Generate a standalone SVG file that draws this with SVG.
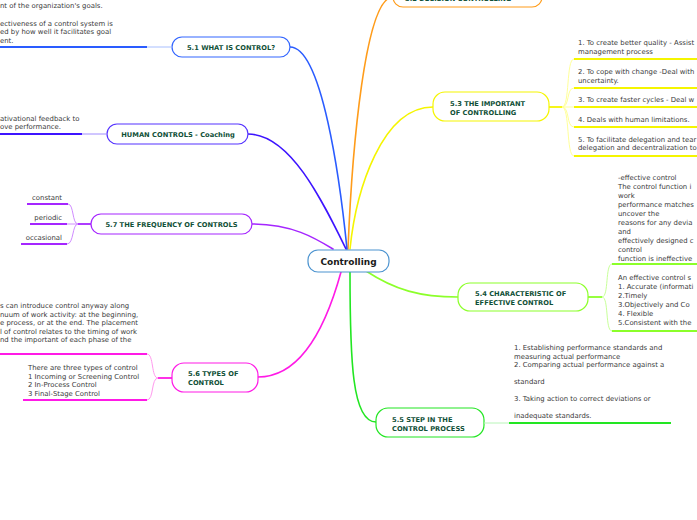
<svg xmlns="http://www.w3.org/2000/svg" width="697" height="520" viewBox="0 0 697 520">
<style>
.t{font-family:"DejaVu Sans",Verdana,sans-serif;font-size:6.9px;fill:#3a3a3a}
.h{font-family:"DejaVu Sans",Verdana,sans-serif;font-size:6.7px;font-weight:bold;fill:#0f4f37}
.box{fill:#fff;stroke-width:1.2}
.c{fill:none;stroke-width:1.6;stroke-linecap:round}
.u{fill:none;stroke-width:1.8}
.l{fill:none;stroke-width:1}
</style>
<rect width="697" height="520" fill="#fff"/>
<g id="connectors">
<path class="c" stroke="#ff9c1a" d="M348,249 C352,150 365,-3 393,-3"/>
<path class="c" stroke="#2a5cff" d="M347,249 C340,180 322,47 290,47"/>
<path class="c" stroke="#3d14ff" d="M346,249 C322,200 290,134 248,134"/>
<path class="c" stroke="#a526ff" d="M333,249 C315,238 292,224 252,224"/>
<path class="c" stroke="#ff1ae6" d="M341,272 C325,330 300,377 258,377"/>
<path class="c" stroke="#22e622" d="M350,272 C350,360 352,422 376,422"/>
<path class="c" stroke="#8cff2a" d="M366,271 C395,290 420,297 458,297"/>
<path class="c" stroke="#f5f500" d="M350,249 C356,190 382,107 433,107"/>
</g>
<g id="controlling">
<rect class="box" x="308" y="250" width="81" height="22" rx="10" stroke="#4d94d0" stroke-width="1.3"/>
<text x="348.5" y="264.5" text-anchor="middle" style="font-family:'DejaVu Sans',Verdana,sans-serif;font-size:9px;font-weight:bold;fill:#1a1a1a">Controlling</text>
</g>
<g id="n52">
<rect class="box" x="393" y="-13" width="149" height="20" rx="10" stroke="#ff9c1a"/>
<text class="h" x="405" y="1">5.2 DECISION CONTROLLING</text>
</g>
<g id="n51">
<rect class="box" x="172" y="37" width="118" height="20" rx="10" stroke="#3366ff"/>
<text class="h" x="231" y="49.5" text-anchor="middle">5.1 WHAT IS CONTROL?</text>
<path class="l" stroke="#a8bfff" d="M172,47 L147,47"/>
<path class="u" stroke="#2a5cff" d="M147,47 L0,47"/>
<text class="t" x="0" y="8">nt of the organization's goals.</text>
<text class="t" x="0" y="25.5">ectiveness of a control system is<tspan x="0" dy="8.5">ed by how well it facilitates goal</tspan><tspan x="0" dy="8.5">ent.</tspan></text>
</g>
<g id="human">
<rect class="box" x="107" y="124" width="141" height="20" rx="10" stroke="#5533ff"/>
<text class="h" x="178" y="136.5" text-anchor="middle">HUMAN CONTROLS - Coaching</text>
<path class="l" stroke="#a08cff" d="M107,134 L82,134"/>
<path class="u" stroke="#3d14ff" d="M82,134 L0,134"/>
<text class="t" x="0" y="120.5">ativational feedback to<tspan x="0" dy="8.8">ove performance.</tspan></text>
</g>
<g id="n57">
<rect class="box" x="91" y="214" width="161" height="20" rx="10" stroke="#a526ff"/>
<text class="h" x="171.5" y="226.5" text-anchor="middle">5.7 THE FREQUENCY OF CONTROLS</text>
<path class="u" stroke="#a526ff" d="M91,224 L78,224"/>
<path class="l" stroke="#d08cff" d="M78,224 C72,224 74,204 68,204 M78,224 L67,224 M78,224 C72,224 74,244 67,244"/>
<path class="u" stroke="#a526ff" d="M68,204 L27,204 M67,224 L30,224 M67,244 L21,244"/>
<text class="t" x="62" y="199.5" text-anchor="end">constant</text>
<text class="t" x="62" y="220" text-anchor="end">periodic</text>
<text class="t" x="62" y="240" text-anchor="end">occasional</text>
</g>
<g id="n56">
<rect class="box" x="172" y="363" width="86" height="29" rx="12" stroke="#ff1ae6"/>
<text class="h" x="188" y="376">5.6 TYPES OF<tspan x="188" dy="9">CONTROL</tspan></text>
<path class="u" stroke="#ff1ae6" d="M172,378 L158,378"/>
<path class="l" stroke="#ff99ee" d="M158,378 C151,378 154,354 147,354 M158,378 C151,378 154,400 147,400"/>
<path class="u" stroke="#ff1ae6" d="M147,354 L0,354 M147,400 L23,400"/>
<text class="t" x="0" y="308">s can introduce control anyway along<tspan x="0" dy="8.6">nuum of work activity: at the beginning,</tspan><tspan x="0" dy="8.6">e process, or at the end. The placement</tspan><tspan x="0" dy="8.6">l of control relates to the timing of work</tspan><tspan x="0" dy="8.6">nd the important of each phase of the</tspan></text>
<text class="t" x="28" y="370">There are three types of control<tspan x="28" dy="8.6">1 Incoming or Screening Control</tspan><tspan x="28" dy="8.6">2 In-Process Control</tspan><tspan x="28" dy="8.6">3 Final-Stage Control</tspan></text>
</g>
<g id="n55">
<rect class="box" x="376" y="408" width="108" height="29" rx="12" stroke="#22e622"/>
<text class="h" x="392" y="422">5.5 STEP IN THE<tspan x="392" dy="8.5">CONTROL PROCESS</tspan></text>
<path class="l" stroke="#b8f5b8" d="M484,423 L509,423"/>
<path class="u" stroke="#22e622" d="M509,423 L671,423"/>
<text class="t" x="514" y="350">1. Establishing performance standards and<tspan x="514" dy="8.5">measuring actual performance</tspan><tspan x="514" dy="8.5">2. Comparing actual performance against a</tspan><tspan x="514" dy="17">standard</tspan><tspan x="514" dy="17">3. Taking action to correct deviations or</tspan><tspan x="514" dy="17">inadequate standards.</tspan></text>
</g>
<g id="n54">
<rect class="box" x="458" y="283" width="130" height="28" rx="12" stroke="#8cff2a"/>
<text class="h" x="475" y="296">5.4 CHARACTERISTIC OF<tspan x="475" dy="8.5">EFFECTIVE CONTROL</tspan></text>
<path class="u" stroke="#8cff2a" d="M588,297 L602,297"/>
<path class="l" stroke="#c8ff99" d="M602,297 C609,297 605,264 612,264 M602,297 C609,297 605,331 612,331"/>
<path class="u" stroke="#8cff2a" d="M612,264 L697,264 M612,331 L697,331"/>
<text class="t" x="618" y="179.5">-effective control<tspan x="618" dy="9">The control function i</tspan><tspan x="618" dy="9">work</tspan><tspan x="618" dy="9">performance matches</tspan><tspan x="618" dy="9">uncover the</tspan><tspan x="618" dy="9">reasons for any devia</tspan><tspan x="618" dy="9">and</tspan><tspan x="618" dy="9">effectively designed c</tspan><tspan x="618" dy="9">control</tspan><tspan x="618" dy="9">function is ineffective</tspan></text>
<text class="t" x="618" y="279.5">An effective control s<tspan x="618" dy="9">1. Accurate (informati</tspan><tspan x="618" dy="9">2.Timely</tspan><tspan x="618" dy="9">3.Objectively and Co</tspan><tspan x="618" dy="9">4. Flexible</tspan><tspan x="618" dy="9">5.Consistent with the</tspan></text>
</g>
<g id="n53">
<rect class="box" x="433" y="92" width="116" height="29" rx="12" stroke="#f5f500"/>
<text class="h" x="450" y="106">5.3 THE IMPORTANT<tspan x="450" dy="8.5">OF CONTROLLING</tspan></text>
<path class="u" stroke="#f5f500" d="M549,107 L562,107"/>
<path class="l" stroke="#ffff99" d="M562,107 C570,107 566,59 574,59 M562,107 C570,107 566,88 574,88 M562,107 L574,107 M562,107 C570,107 566,127 574,127 M562,107 C570,107 566,156 574,156"/>
<path class="u" stroke="#f5f500" d="M574,59 L697,59 M574,88 L697,88 M574,107 L697,107 M574,127 L697,127 M574,156 L697,156"/>
<text class="t" x="578" y="44.5">1. To create better quality - Assist<tspan x="578" dy="9">management process</tspan></text>
<text class="t" x="578" y="74">2. To cope with change -Deal with<tspan x="578" dy="8.5">uncertainty.</tspan></text>
<text class="t" x="578" y="101.5">3. To create faster cycles - Deal w</text>
<text class="t" x="578" y="121.5">4. Deals with human limitations.</text>
<text class="t" x="578" y="141.5">5. To facilitate delegation and tear<tspan x="578" dy="8.5">delegation and decentralization to</tspan></text>
</g>
</svg>
